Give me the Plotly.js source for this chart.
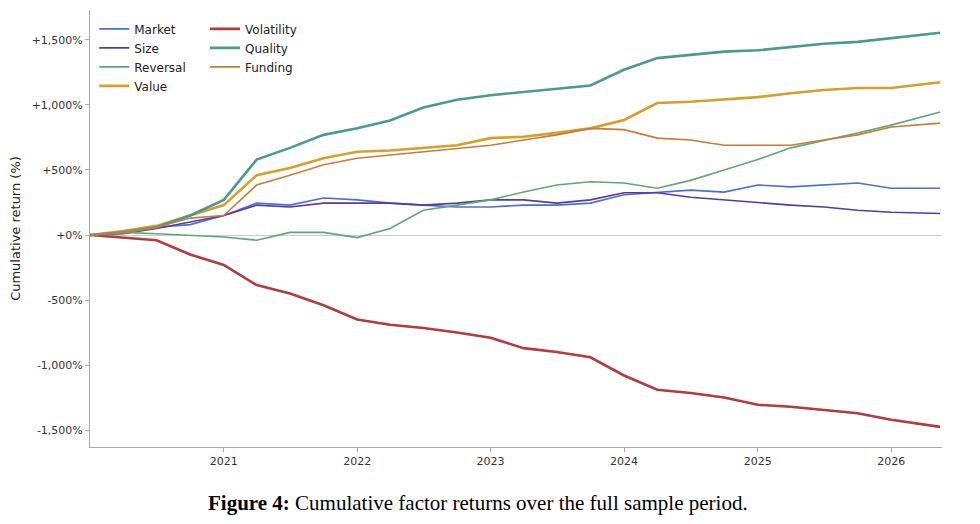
<!DOCTYPE html>
<html>
<head>
<meta charset="utf-8">
<script src="https://cdn.plot.ly/plotly-3.0.1.min.js"></script>
<style>body{margin:0;background:#fff}#chart{width:980px;height:524px}</style>
</head>
<body>
<div id="chart"></div>
<script>
// quarterly readings, cumulative return in %
var dates = ['2020-01-01','2020-04-01','2020-07-01','2020-10-01','2021-01-01','2021-04-01','2021-07-01','2021-10-01',
  '2022-01-01','2022-04-01','2022-07-01','2022-10-01','2023-01-01','2023-04-01','2023-07-01','2023-10-01',
  '2024-01-01','2024-04-01','2024-07-01','2024-10-01','2025-01-01','2025-04-01','2025-07-01','2025-10-01',
  '2026-01-01','2026-05-15'];
var market = [0,20,60,80,150,245,230,285,270,245,230,215,215,230,230,245,310,330,345,330,385,370,385,400,360,360];
var size = [0,10,50,100,150,230,215,245,245,245,230,245,270,270,245,270,325,325,290,270,245,230,215,190,175,165];
var reversal = [0,20,10,0,-15,-40,20,20,-20,50,190,230,270,330,385,410,400,360,420,500,580,670,730,785,845,945];
var value = [0,30,70,150,230,460,515,590,640,650,670,690,745,755,785,820,885,1015,1025,1040,1060,1090,1115,1130,1130,1175];
var volatility = [0,-20,-40,-150,-230,-385,-450,-540,-650,-690,-715,-750,-790,-870,-900,-940,-1080,-1190,-1215,-1250,-1305,-1320,-1345,-1370,-1420,-1475];
var quality = [0,20,60,150,270,580,670,770,820,880,980,1040,1075,1100,1130,1150,1270,1360,1385,1410,1420,1445,1470,1485,1515,1555];
var funding = [0,20,60,130,150,385,460,540,590,615,640,670,690,730,770,820,810,745,730,690,690,690,730,770,830,860];

var yTicks = [-1500,-1000,-500,0,500,1000,1500];
var yLabels = ['-1,500%','-1,000%','-500%','+0%','+500%','+1,000%','+1,500%'];
var xTicks = ['2021-01-01','2022-01-01','2023-01-01','2024-01-01','2025-01-01','2026-01-01'];
var xLabels = ['2021','2022','2023','2024','2025','2026'];

function line(name, y, color, width, legend) {
    return {x: dates, y: y, name: name, type: 'scatter', mode: 'lines',
        line: {color: color, width: width}, legend: legend};
}

var data = [
    line('Market', market, '#4a6fd6', 1.6, 'legend'),
    line('Size', size, '#5b3a9c', 1.6, 'legend'),
    line('Reversal', reversal, '#5ea872', 1.6, 'legend'),
    line('Value', value, '#d4a029', 2.6, 'legend'),
    line('Volatility', volatility, '#b23b3b', 2.6, 'legend2'),
    line('Quality', quality, '#4a9a94', 2.6, 'legend2'),
    line('Funding', funding, '#c97b3b', 1.6, 'legend2')
];

var legendStyle = {yanchor: 'top', y: 0.99, bgcolor: 'rgba(0,0,0,0)', font: {family: 'DejaVu Sans', size: 12, color: '#222'},
    tracegroupgap: 0, itemwidth: 30};

var layout = {
    width: 980, height: 524,
    margin: {l: 90, r: 38, t: 10, b: 77},
    paper_bgcolor: '#fff', plot_bgcolor: '#fff',
    font: {family: 'DejaVu Sans', size: 11, color: '#333'},
    xaxis: {range: ['2020-01-01', '2026-05-20'], showgrid: false, zeroline: false,
        showline: true, linecolor: '#aaa', ticks: 'outside', ticklen: 4, tickcolor: '#aaa',
        tickvals: xTicks, ticktext: xLabels, tickfont: {size: 11}},
    yaxis: {range: [-1630, 1730], tickvals: yTicks, ticktext: yLabels, showgrid: false,
        zeroline: true, zerolinecolor: '#ccc', zerolinewidth: 1,
        showline: true, linecolor: '#aaa', ticks: 'outside', ticklen: 4, tickcolor: '#aaa',
        title: {text: 'Cumulative return (%)', font: {size: 13, color: '#222'}, standoff: 8}},
    legend: Object.assign({x: 0.005, xanchor: 'left'}, legendStyle),
    legend2: Object.assign({x: 0.135, xanchor: 'left'}, legendStyle),
    annotations: [{
        text: '<b>Figure 4:</b> Cumulative factor returns over the full sample period.',
        xref: 'paper', yref: 'paper', x: 0.455, y: -0.128, xanchor: 'center', yanchor: 'middle',
        showarrow: false, font: {family: 'Liberation Serif', size: 21, color: '#000'}
    }]
};

Plotly.newPlot(document.getElementById('chart'), data, layout, {displayModeBar: false});
</script>
</body>
</html>
